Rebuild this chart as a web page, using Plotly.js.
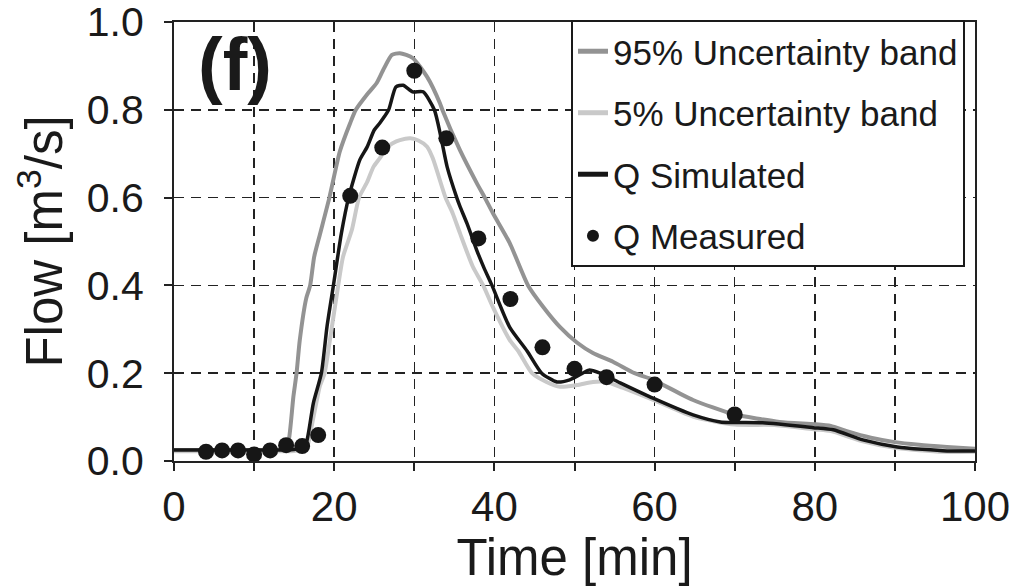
<!DOCTYPE html>
<html>
<head>
<meta charset="utf-8">
<script src="https://cdn.plot.ly/plotly-3.0.1.min.js"></script>
<style>html,body{margin:0;padding:0;background:#fff;}#chart{width:1018px;height:586px;}</style>
</head>
<body>
<div id="chart"></div>
<script>
// 95% uncertainty band (upper)
var upperT = [0, 5, 10, 13.8, 14.3, 14.9, 15.3, 15.7, 16.5, 17.0, 17.5, 18.2, 19.4, 20.7, 22.0, 22.7, 24.2, 25.3, 26.1, 27.2, 28.2, 29.8, 31.6, 33.2, 33.5, 35.7, 37.8, 38.8, 39.8, 41.9, 44.2, 46.1, 48.2, 50.3, 52.3, 54.8, 57.5, 59.8, 64.8, 69.8, 75.6, 80, 82, 84, 87, 90, 93, 96.5, 100];
var upperQ = [0.025, 0.025, 0.025, 0.026, 0.045, 0.146, 0.2, 0.275, 0.37, 0.40, 0.465, 0.515, 0.6, 0.705, 0.77, 0.8, 0.837, 0.861, 0.89, 0.925, 0.929, 0.918, 0.875, 0.815, 0.8, 0.708, 0.633, 0.6, 0.565, 0.497, 0.4, 0.351, 0.305, 0.27, 0.246, 0.226, 0.2, 0.185, 0.139, 0.107, 0.089, 0.084, 0.08, 0.068, 0.053, 0.043, 0.037, 0.032, 0.028];

// 5% uncertainty band (lower)
var lowerT = [0, 5, 10, 15, 16.5, 17.3, 18.2, 18.8, 19.5, 20.5, 21.1, 22.2, 23.1, 24.1, 24.9, 25.7, 26.6, 27.3, 28.2, 29.5, 30.5, 31.6, 32.3, 33.9, 34.8, 35.7, 37.3, 38.6, 39.8, 41.9, 43.0, 44.7, 46.5, 48.2, 50.3, 52.3, 54, 56, 60, 65, 70, 75, 80, 82, 86, 90, 96, 100];
var lowerQ = [0.022, 0.022, 0.022, 0.023, 0.028, 0.09, 0.17, 0.2, 0.28, 0.4, 0.465, 0.526, 0.6, 0.635, 0.67, 0.69, 0.715, 0.724, 0.731, 0.735, 0.73, 0.716, 0.69, 0.6, 0.564, 0.519, 0.443, 0.4, 0.351, 0.276, 0.25, 0.2, 0.18, 0.169, 0.173, 0.18, 0.18, 0.167, 0.138, 0.1, 0.083, 0.082, 0.072, 0.068, 0.045, 0.03, 0.021, 0.021];

// Q simulated
var simT = [0, 5, 10, 15, 16.0, 16.5, 17.4, 18.4, 19.1, 19.9, 20.9, 21.8, 23.2, 24.1, 25.0, 25.7, 26.8, 27.7, 28.6, 29.8, 31.1, 32.5, 33.3, 34.1, 35.3, 35.7, 36.6, 37.8, 38.7, 39.7, 41.9, 44.1, 45.9, 47.8, 49.4, 50.6, 51.8, 53.2, 55.7, 59.8, 64.8, 68.2, 73.5, 79.8, 82.3, 86, 90.3, 96.5, 100];
var simQ = [0.025, 0.025, 0.025, 0.026, 0.03, 0.04, 0.132, 0.2, 0.306, 0.4, 0.519, 0.6, 0.686, 0.715, 0.754, 0.77, 0.8, 0.852, 0.856, 0.841, 0.841, 0.8, 0.74, 0.67, 0.6, 0.58, 0.54, 0.48, 0.44, 0.4, 0.305, 0.25, 0.2, 0.18, 0.185, 0.196, 0.207, 0.2, 0.178, 0.143, 0.105, 0.089, 0.087, 0.076, 0.071, 0.048, 0.032, 0.023, 0.023];

// Q measured
var measT = [4, 6, 8, 10, 12, 14, 16, 18, 22, 26, 30, 34, 38, 42, 46, 50, 54, 60, 70];
var measQ = [0.021, 0.024, 0.024, 0.015, 0.024, 0.036, 0.034, 0.059, 0.604, 0.714, 0.889, 0.735, 0.507, 0.369, 0.259, 0.21, 0.191, 0.174, 0.106];

var xTicks = [0, 20, 40, 60, 80, 100];
var yTicks = [0.0, 0.2, 0.4, 0.6, 0.8, 1.0];

var FONT = '"Liberation Sans", Arial, Helvetica, sans-serif';

var traces = [
  {x: upperT, y: upperQ, mode: 'lines', name: '95% Uncertainty band', legendgroup: 'a',
   line: {color: '#939393', width: 4, shape: 'spline', smoothing: 0.6}},
  {x: lowerT, y: lowerQ, mode: 'lines', name: '5% Uncertainty band', legendgroup: 'b',
   line: {color: '#c9c9c9', width: 4, shape: 'spline', smoothing: 0.6}},
  {x: simT, y: simQ, mode: 'lines', name: 'Q Simulated', legendgroup: 'c',
   line: {color: '#161616', width: 3.5, shape: 'spline', smoothing: 0.6}},
  {x: measT, y: measQ, mode: 'markers', name: 'Q Measured', legendgroup: 'd',
   marker: {color: '#161616', size: 16}}
];

var gridStyle = {showgrid: true, gridcolor: '#222', gridwidth: 1.5, griddash: '10px,7px'};

var layout = {
  width: 1018, height: 586,
  margin: {l: 174, r: 43, t: 22, b: 125},
  paper_bgcolor: '#fff', plot_bgcolor: '#fff',
  font: {family: FONT, color: '#1a1a1a'},
  showlegend: true,
  legend: {
    x: 0.4956, y: 1.0046, xanchor: 'left', yanchor: 'top',
    bgcolor: '#fff', bordercolor: '#1a1a1a', borderwidth: 2,
    font: {family: FONT, size: 35, color: '#1a1a1a'},
    tracegroupgap: 13, itemsizing: 'constant'
  },
  xaxis: Object.assign({
    range: [0, 100], tickvals: xTicks, ticktext: xTicks.map(String),
    ticks: 'outside', ticklen: 8, tickwidth: 2, tickcolor: '#222',
    showline: true, linecolor: '#222', linewidth: 2, mirror: true,
    zeroline: false, ticklabelstandoff: 0, ticklabeloverflow: 'allow',
    tickfont: {family: FONT, size: 42, color: '#1a1a1a'},
    minor: {dtick: 10, ticks: 'outside', ticklen: 8, tickwidth: 2, tickcolor: '#222',
            showgrid: true, gridcolor: '#222', gridwidth: 1.5, griddash: '10px,7px'},
    title: {text: 'Time [min]', font: {family: FONT, size: 51, color: '#1a1a1a'}, standoff: 4}
  }, gridStyle),
  yaxis: Object.assign({
    range: [0, 1], tickvals: yTicks, ticktext: yTicks.map(function(v){return v.toFixed(1);}),
    ticks: 'outside', ticklen: 8, tickwidth: 2, tickcolor: '#222',
    showline: true, linecolor: '#222', linewidth: 2, mirror: true,
    zeroline: false, ticklabelstandoff: 12, ticklabeloverflow: 'allow',
    tickfont: {family: FONT, size: 41, color: '#1a1a1a'},
    title: {text: 'Flow [m<sup>3</sup>/s]', font: {family: FONT, size: 51, color: '#1a1a1a'}, standoff: 8}
  }, gridStyle),
  annotations: [{
    xref: 'paper', yref: 'paper', x: 0.076, y: 0.903, xanchor: 'center', yanchor: 'middle',
    text: '(f)', showarrow: false,
    font: {family: FONT, size: 74, color: '#1a1a1a', weight: 'bold'}
  }]
};

Plotly.newPlot('chart', traces, layout, {staticPlot: true, displayModeBar: false});
</script>
</body>
</html>
